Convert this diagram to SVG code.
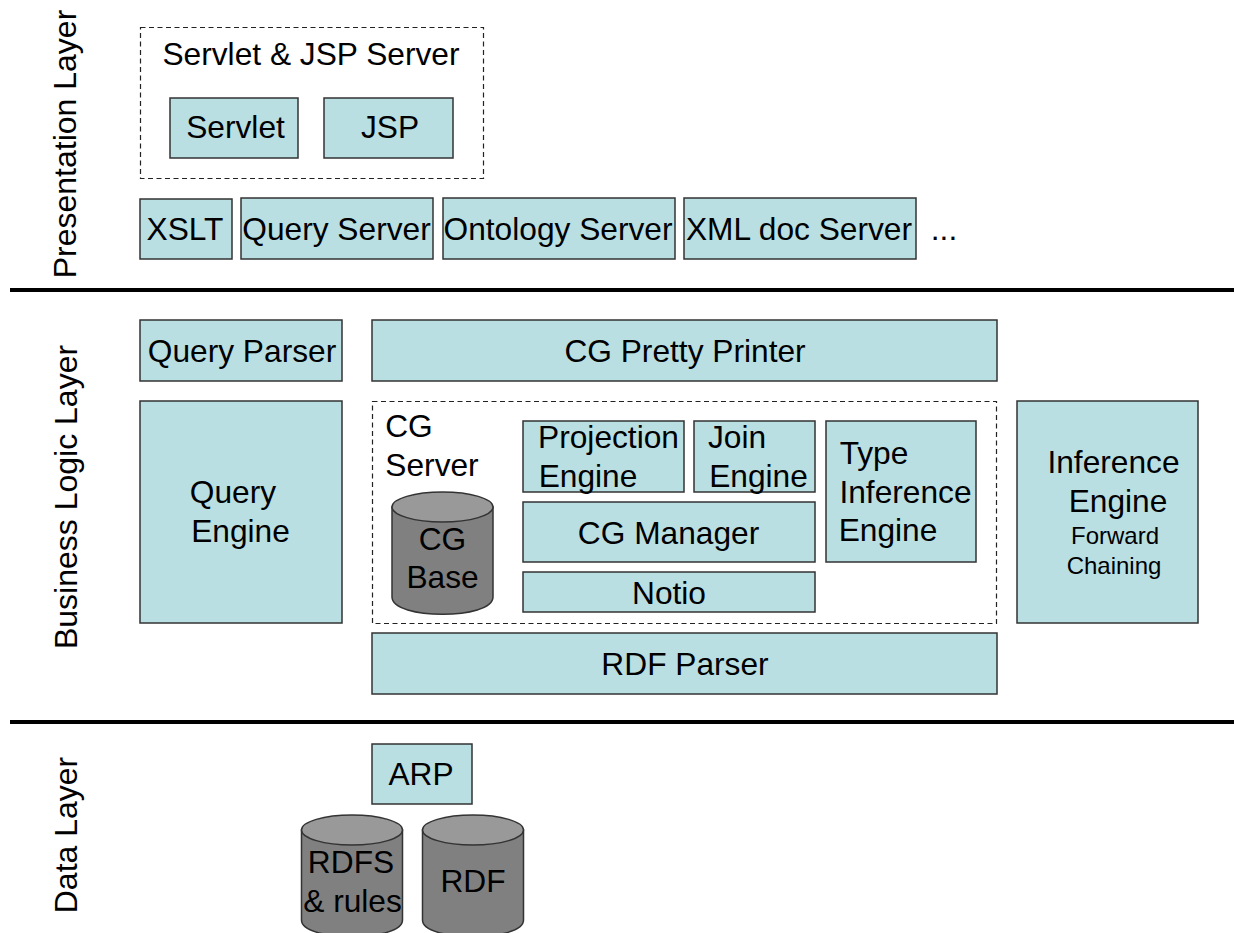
<svg xmlns="http://www.w3.org/2000/svg" width="1234" height="933" viewBox="0 0 1234 933">
<style>
text{font-family:"Liberation Sans",Arial,sans-serif;font-size:31.700px;fill:#000;text-anchor:middle}
.b{fill:#b9dfe3;stroke:#333;stroke-width:1.500}
.d{fill:none;stroke:#222;stroke-width:1.200;stroke-dasharray:5 3.500}
.c{fill:#808080;stroke:#333;stroke-width:1.500}
.t{fill:#999;stroke:#333;stroke-width:1.500}
.l{stroke:#000;stroke-width:4}
.s{font-size:24px}
.v{font-size:32px}
</style>
<rect width="1234" height="933" fill="#fff"/>
<g id="connectors">
<line class="l" x1="10" y1="290" x2="1234" y2="290"/>
<line class="l" x1="10" y1="722" x2="1234" y2="722"/>
</g>
<g id="layer-presentation"><text class="v" transform="translate(76,144) rotate(-90)">Presentation Layer</text></g>
<g id="layer-business"><text class="v" transform="translate(77,497) rotate(-90)">Business Logic Layer</text></g>
<g id="layer-data"><text class="v" transform="translate(77,835) rotate(-90)">Data Layer</text></g>
<g id="servlet-jsp-server"><rect class="d" x="140.500" y="27.500" width="343" height="151"/><text x="311" y="65">Servlet &amp; JSP Server</text></g>
<g id="servlet"><rect class="b" x="170" y="98" width="128" height="60"/><text x="235.500" y="138">Servlet</text></g>
<g id="jsp"><rect class="b" x="324" y="98" width="129" height="60"/><text x="390" y="138">JSP</text></g>
<g id="xslt"><rect class="b" x="140" y="199" width="92" height="60"/><text x="185" y="240">XSLT</text></g>
<g id="query-server"><rect class="b" x="241" y="198" width="192" height="61"/><text x="336.500" y="240">Query Server</text></g>
<g id="ontology-server"><rect class="b" x="443" y="198" width="232" height="61"/><text x="558" y="240">Ontology Server</text></g>
<g id="xml-doc-server"><rect class="b" x="684" y="198" width="232" height="61"/><text x="799" y="240">XML doc Server</text></g>
<g id="ellipsis"><text x="944" y="240">...</text></g>
<g id="query-parser"><rect class="b" x="140" y="320" width="202" height="61"/><text x="242" y="362">Query Parser</text></g>
<g id="cg-pretty-printer"><rect class="b" x="372" y="320" width="625" height="61"/><text x="685" y="362">CG Pretty Printer</text></g>
<g id="query-engine"><rect class="b" x="140" y="401" width="202" height="222"/><text x="233" y="503">Query</text><text x="240.500" y="542">Engine</text></g>
<g id="cg-server"><rect class="d" x="372.500" y="401.500" width="624" height="222"/><text x="409" y="437">CG</text><text x="432" y="476">Server</text></g>
<g id="cg-base"><path class="c" d="M392 507V597C392 620 493 620 493 597V507Z"/><ellipse class="t" cx="442.500" cy="507" rx="50.500" ry="15"/><text x="442.500" y="550">CG</text><text x="442.500" y="588">Base</text></g>
<g id="projection-engine"><rect class="b" x="523" y="421" width="161" height="71"/><text x="608.500" y="448">Projection</text><text x="588" y="487">Engine</text></g>
<g id="join-engine"><rect class="b" x="694" y="421" width="121" height="71"/><text x="737" y="448">Join</text><text x="758.500" y="487">Engine</text></g>
<g id="type-inference-engine"><rect class="b" x="826" y="421" width="150" height="141"/><text x="874" y="464">Type</text><text x="905.500" y="503">Inference</text><text x="888" y="541">Engine</text></g>
<g id="cg-manager"><rect class="b" x="523" y="502" width="292" height="60"/><text x="668.500" y="544">CG Manager</text></g>
<g id="notio"><rect class="b" x="523" y="572" width="292" height="40"/><text x="669" y="604">Notio</text></g>
<g id="inference-engine"><rect class="b" x="1017" y="401" width="181" height="222"/><text x="1113.500" y="473">Inference</text><text x="1118" y="512">Engine</text><text class="s" x="1115" y="544">Forward</text><text class="s" x="1114" y="574">Chaining</text></g>
<g id="rdf-parser"><rect class="b" x="372" y="633" width="625" height="61"/><text x="685" y="675">RDF Parser</text></g>
<g id="arp"><rect class="b" x="372" y="744" width="100" height="60"/><text x="421" y="785">ARP</text></g>
<g id="rdfs-rules"><path class="c" d="M301.500 830V920C301.500 942 402.500 942 402.500 920V830Z"/><ellipse class="t" cx="352" cy="830" rx="50.500" ry="15"/><text x="351" y="873">RDFS</text><text x="352.500" y="912">&amp; rules</text></g>
<g id="rdf"><path class="c" d="M422.500 830V920C422.500 942 523.500 942 523.500 920V830Z"/><ellipse class="t" cx="473" cy="830" rx="50.500" ry="15"/><text x="473" y="892">RDF</text></g>
</svg>
